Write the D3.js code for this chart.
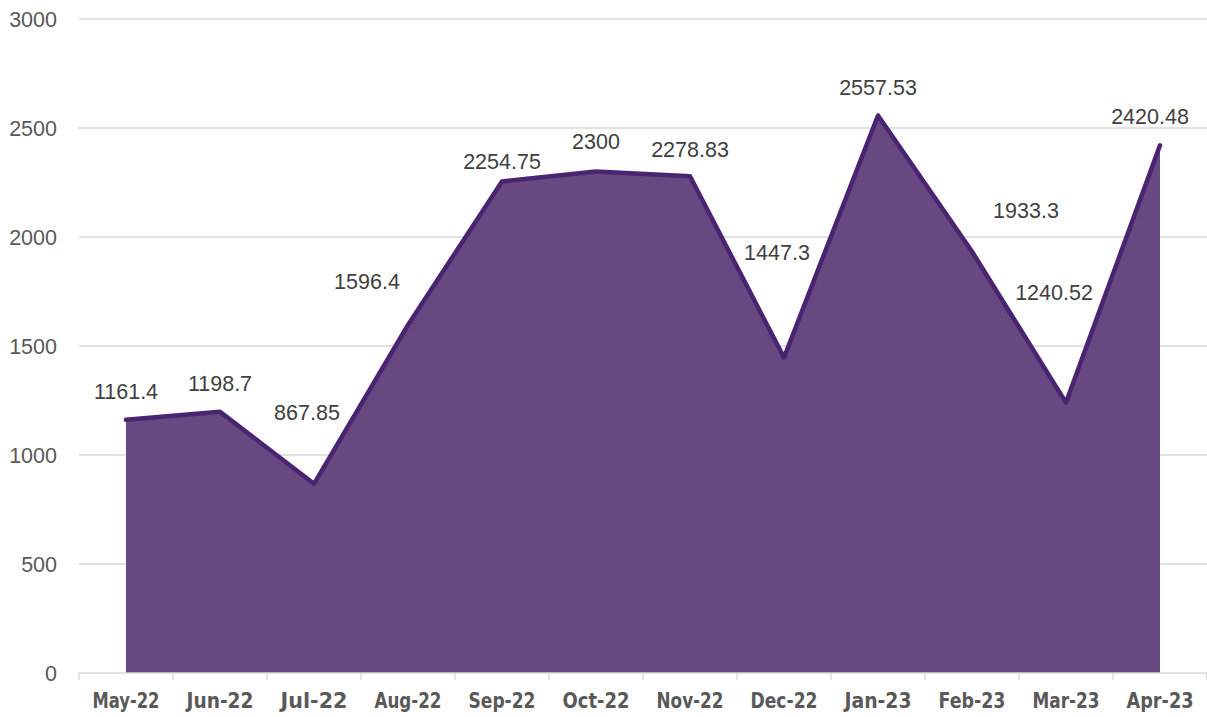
<!doctype html>
<html lang='en'>
<head>
	<meta charset='utf-8'>
	<title>Monthly area chart</title>
	<script src='https://d3js.org/d3.v7.min.js'></script>
	<style>
		html, body { margin: 0; padding: 0; background: #fff; }
		.ytick text { font-family: 'Liberation Sans', Arial, sans-serif; font-size: 21.5px; fill: #595959; }
		.xtick text { font-family: 'Liberation Sans Narrow', 'DejaVu Sans Condensed', sans-serif; font-size: 22px; font-weight: bold; fill: #595959; }
		.lbl { font-family: 'Liberation Sans', Arial, sans-serif; font-size: 21.5px; fill: #404040; }
	</style>
</head>
<body>
	<div id='container'></div>
<script>
	// data
	const months = ['May-22', 'Jun-22', 'Jul-22', 'Aug-22', 'Sep-22', 'Oct-22', 'Nov-22', 'Dec-22', 'Jan-23', 'Feb-23', 'Mar-23', 'Apr-23'];
	const values = [1161.4, 1198.7, 867.85, 1596.4, 2254.75, 2300, 2278.83, 1447.3, 2557.53, 1933.3, 1240.52, 2420.48];
	const yTicks = [0, 500, 1000, 1500, 2000, 2500, 3000];

	// label nudges (px) relative to each point, as placed in the original
	const labelDx = [0, 0, -7, -41, 0, 0, 0, -7, 0, 54, -12, -10];
	const labelDy = [-28, -28, -71, -44, -20, -30, -27, -105, -28, -41, -110, -29];

	const W = 1207, H = 717;
	const margin = {top: 19, right: 0, bottom: 44, left: 79};
	const width = W - margin.left - margin.right,
	      height = H - margin.top - margin.bottom;

	const svg = d3.select('#container').append('svg')
		.attr('width', W)
		.attr('height', H)
		.append('g')
		.attr('transform', 'translate(' + margin.left + ',' + margin.top + ')');

	const x = d3.scaleBand().domain(months).range([0, width]);
	const y = d3.scaleLinear().domain([0, 3000]).range([height, 0]);
	const cx = (m) => x(m) + x.bandwidth() / 2;

	// gridlines
	svg.append('g')
		.selectAll('line')
		.data(yTicks.filter(d => d > 0))
		.enter()
		.append('line')
		.attr('x1', 0).attr('x2', width)
		.attr('y1', d => y(d)).attr('y2', d => y(d))
		.attr('stroke', '#d9d9d9')
		.attr('stroke-width', 1.3);

	// y labels
	const yg = svg.append('g').attr('class', 'ytick');
	yg.selectAll('text')
		.data(yTicks)
		.enter()
		.append('text')
		.attr('x', -22)
		.attr('y', d => y(d))
		.attr('dy', '0.35em')
		.attr('text-anchor', 'end')
		.text(d => d);

	const pts = months.map((m, i) => ({m: m, v: values[i], i: i}));

	// area
	const area = d3.area()
		.x(d => cx(d.m))
		.y0(y(0))
		.y1(d => y(d.v));

	svg.append('path')
		.datum(pts)
		.attr('d', area)
		.attr('fill', '#674880');

	const line = d3.line()
		.x(d => cx(d.m))
		.y(d => y(d.v));

	svg.append('path')
		.datum(pts)
		.attr('d', line)
		.attr('fill', 'none')
		.attr('stroke', '#4a2470')
		.attr('stroke-width', 4.5)
		.attr('stroke-linejoin', 'round')
		.attr('stroke-linecap', 'round');

	// x axis
	const xg = svg.append('g')
		.attr('class', 'xtick')
		.attr('transform', 'translate(0,' + height + ')');

	xg.append('line')
		.attr('x1', 0).attr('x2', width)
		.attr('stroke', '#d9d9d9')
		.attr('stroke-width', 1.3);

	xg.selectAll('.tk')
		.data(months.concat(['end']))
		.enter()
		.append('line')
		.attr('class', 'tk')
		.attr('x1', (d, i) => i < months.length ? x(d) : width - 0.5)
		.attr('x2', (d, i) => i < months.length ? x(d) : width - 0.5)
		.attr('y1', 0).attr('y2', 7)
		.attr('stroke', '#d9d9d9')
		.attr('stroke-width', 1.3);

	xg.selectAll('text')
		.data(months)
		.enter()
		.append('text')
		.attr('x', d => cx(d))
		.attr('y', 35)
		.attr('text-anchor', 'middle')
		.attr('textLength', 67)
		.attr('lengthAdjust', 'spacingAndGlyphs')
		.text(d => d);

	// data labels
	svg.append('g')
		.selectAll('text')
		.data(pts)
		.enter()
		.append('text')
		.attr('class', 'lbl')
		.attr('x', d => cx(d.m) + labelDx[d.i])
		.attr('y', d => y(d.v) + labelDy[d.i])
		.attr('dy', '0.35em')
		.attr('text-anchor', 'middle')
		.text(d => d.v);
</script>
</body>
</html>
